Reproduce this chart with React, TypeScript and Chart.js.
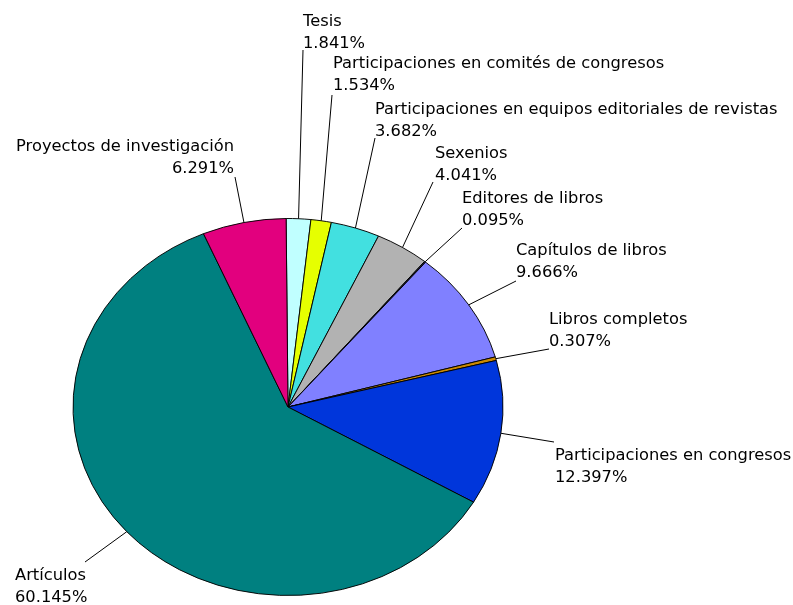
import React, { useEffect, useRef } from 'react';
import { Chart, registerables } from 'chart.js';

Chart.register(...registerables);

const categories = [
  'Tesis',
  'Participaciones en comités de congresos',
  'Participaciones en equipos editoriales de revistas',
  'Sexenios',
  'Editores de libros',
  'Capítulos de libros',
  'Libros completos',
  'Participaciones en congresos',
  'Artículos',
  'Proyectos de investigación',
];
const percentages = [1.841, 1.534, 3.682, 4.041, 0.095, 9.666, 0.307, 12.397, 60.145, 6.291];
const sliceColors = [
  '#C0FFFF',
  '#E6FF00',
  '#42E0E0',
  '#B2B2B2',
  '#202040',
  '#8080FF',
  '#CC8A00',
  '#0036DB',
  '#008080',
  '#E2007E',
];

// label layout: text anchor (x, cap-centre y of first line), alignment, leader-line end
const labelLayout = [
  { x: 303, y: 20, align: 'left', lx: 303, ly: 50 },
  { x: 333, y: 62, align: 'left', lx: 332, ly: 95 },
  { x: 375, y: 108, align: 'left', lx: 375, ly: 138 },
  { x: 435, y: 152, align: 'left', lx: 433, ly: 182 },
  { x: 462, y: 197, align: 'left', lx: 462, ly: 228 },
  { x: 516, y: 249, align: 'left', lx: 516, ly: 281 },
  { x: 549, y: 318, align: 'left', lx: 549, ly: 349 },
  { x: 555, y: 454, align: 'left', lx: 554, ly: 442 },
  { x: 15, y: 574, align: 'left', lx: 85, ly: 562 },
  { x: 234, y: 145, align: 'right', lx: 235, ly: 177 },
];

const CENTER_Y = 407;
const RADIUS_Y = 188.5;
const FONT = '16.3px "DejaVu Sans"';
const LINE_GAP = 21.5;

const ellipsePlugin = {
  id: 'ellipsePie',
  beforeDatasetsDraw(chart: any) {
    const ctx = chart.ctx;
    const arc = chart.getDatasetMeta(0).data[0];
    ctx.save();
    ctx.translate(arc.x, CENTER_Y);
    ctx.scale(1, RADIUS_Y / arc.outerRadius);
    ctx.translate(-arc.x, -arc.y);
  },
  afterDatasetsDraw(chart: any) {
    const ctx = chart.ctx;
    ctx.restore();
    const meta = chart.getDatasetMeta(0);
    ctx.save();
    ctx.strokeStyle = '#000';
    ctx.lineWidth = 1;
    ctx.fillStyle = '#000';
    ctx.font = FONT;
    ctx.textBaseline = 'alphabetic';
    meta.data.forEach((arc: any, i: number) => {
      const k = RADIUS_Y / arc.outerRadius;
      const mid = (arc.startAngle + arc.endAngle) / 2;
      const px = arc.x + Math.cos(mid) * arc.outerRadius;
      const py = CENTER_Y + Math.sin(mid) * arc.outerRadius * k;
      const lay = labelLayout[i];
      ctx.beginPath();
      ctx.moveTo(px, py);
      ctx.lineTo(lay.lx, lay.ly);
      ctx.stroke();
      ctx.textAlign = lay.align;
      ctx.fillText(categories[i], lay.x, lay.y + 6);
      ctx.fillText(percentages[i].toFixed(3) + '%', lay.x, lay.y + LINE_GAP + 6);
    });
    ctx.restore();
  },
};

export default function App() {
  const ref = useRef<HTMLCanvasElement | null>(null);
  useEffect(() => {
    if (!ref.current) return;
    const chart = new Chart(ref.current, {
      type: 'pie',
      data: {
        labels: categories,
        datasets: [
          {
            data: percentages,
            backgroundColor: sliceColors,
            borderColor: '#000000',
            borderWidth: 1,
            clip: false,
          } as any,
        ],
      },
      options: {
        responsive: false,
        animation: false,
        events: [],
        rotation: -0.5,
        radius: 215,
        layout: { padding: { left: 73, right: 290, top: 0, bottom: 175 } },
        plugins: {
          legend: { display: false },
          tooltip: { enabled: false },
        },
      } as any,
      plugins: [ellipsePlugin],
    });
    return () => chart.destroy();
  }, []);
  return (
    <div style={{ position: 'absolute', left: 0, top: 0, width: 793, height: 605, background: '#fff' }}>
      <canvas ref={ref} width={793} height={605} style={{ width: 793, height: 605, display: 'block' }} />
    </div>
  );
}
